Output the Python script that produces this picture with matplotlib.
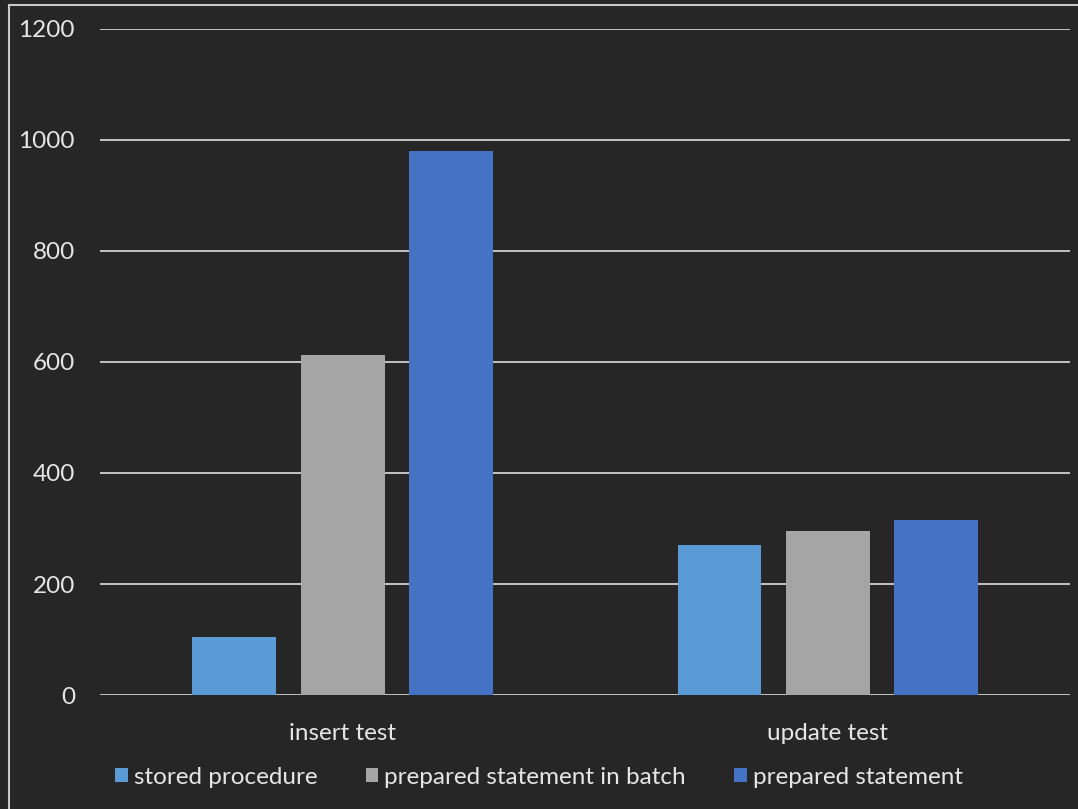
import matplotlib
matplotlib.use("Agg")
from matplotlib import pyplot as plt
from matplotlib.patches import Rectangle
import numpy as np

categories = ["insert test", "update test"]
series_names = ["stored procedure", "prepared statement in batch", "prepared statement"]
stored_procedure = [105, 270]
batch_statement = [613, 296]
prepared_statement = [981, 316]
yticks = [0, 200, 400, 600, 800, 1000, 1200]

colors = ["#5B9BD5", "#A5A5A5", "#4472C4"]
bg = "#262626"
txt = "#e6e6e6"
fs = 17.5

plt.rcParams['font.family'] = ['Lato', 'DejaVu Sans']

fig = plt.figure(figsize=(10.78, 8.09), dpi=100, facecolor=bg)
ax = fig.add_axes([0.0928, 0.1409, 0.9, 0.8233])
ax.set_facecolor(bg)

x = np.arange(len(categories))
width = 0.173
step = 0.223
for i, (vals, name) in enumerate(zip([stored_procedure, batch_statement, prepared_statement], series_names)):
    ax.bar(x + (i - 1) * step, vals, width, color=colors[i], label=name, zorder=3)

ax.set_xlim(-0.5, 1.5)
ax.set_ylim(0, 1200)
ax.set_yticks(yticks)
ax.yaxis.grid(True, color="#d0d0d0", linewidth=1.3, zorder=0)
ax.set_axisbelow(True)
for s in ax.spines.values():
    s.set_visible(False)
ax.tick_params(axis="y", length=0, pad=18, labelsize=fs, labelcolor=txt)
ax.tick_params(axis="x", length=0, pad=20, labelsize=fs, labelcolor=txt)
ax.set_xticks(x)
ax.set_xticklabels(categories)

# frame around the chart area (only top and left visible in the crop)
fig.patches.append(Rectangle((9 / 1078, -0.05), 1.2, 1 - 5 / 809 + 0.05,
                             transform=fig.transFigure, fill=False,
                             edgecolor="#c8c8c8", linewidth=1.5))

leg = fig.legend(loc="center", bbox_to_anchor=(0.5, 1 - 777 / 809), ncol=3,
                 frameon=False, fontsize=fs, handlelength=0.5, handleheight=0.55,
                 handletextpad=0.25, columnspacing=2.0)
for t in leg.get_texts():
    t.set_color(txt)

fig.savefig("out.png", dpi=100, facecolor=bg)
